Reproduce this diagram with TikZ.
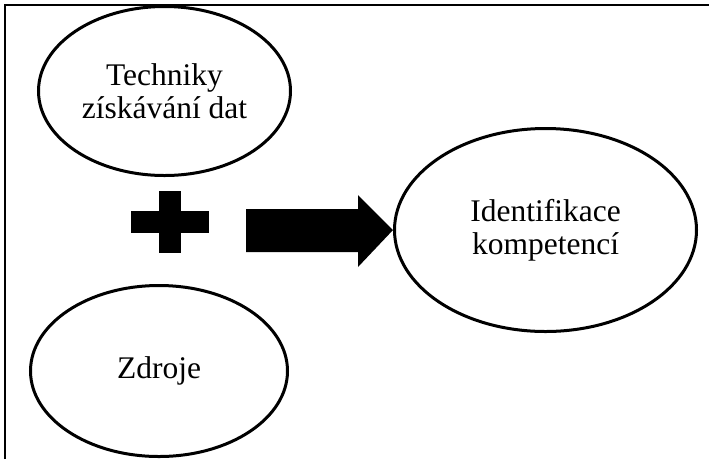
\documentclass[tikz,border=0pt]{standalone}
\usepackage{fontspec}
\setmainfont{Liberation Serif}
\usetikzlibrary{shapes.geometric}
\begin{document}
\begin{tikzpicture}[x=1pt,y=-1pt,
  ell/.style={ellipse,draw=black,line width=3pt,inner sep=0pt,align=center,
    font=\fontsize{31.5}{33}\selectfont},
  blk/.style={fill=black,draw=none}]
\useasboundingbox (0,0) rectangle (709,459);
% frame
\draw[line width=2pt] (5,459) -- (5,5) -- (709,5);
% ellipses
\node[ell,minimum width=252pt,minimum height=169pt] (tech) at (164.5,91) {Techniky\\získávání dat};
\node[ell,minimum width=257pt,minimum height=171pt] (zdroje) at (159,371) {Zdroje};
\node[ell,minimum width=302pt,minimum height=203pt] (ident) at (545.5,230) {Identifikace\\kompetencí};
% plus sign
\fill[blk] (131,211) rectangle (209,233);
\fill[blk] (159,191) rectangle (181,253);
% block arrow
\coordinate (tip) at (ident.west);
\fill[blk] (246,209) -- (358,209) -- (358,195) -- (tip) -- (358,267) -- (358,252) -- (246,252) -- cycle;
\end{tikzpicture}
\end{document}
